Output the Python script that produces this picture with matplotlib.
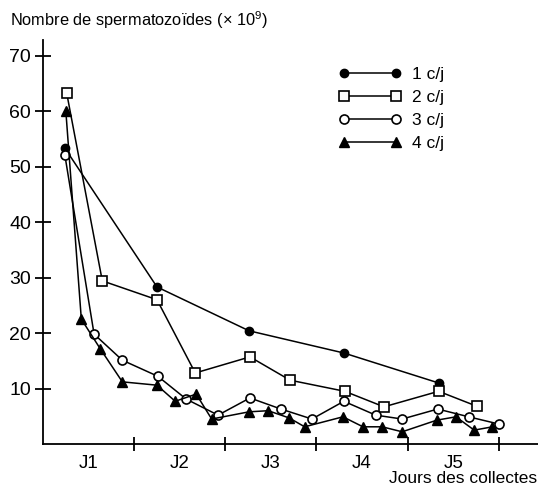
import matplotlib
matplotlib.use("Agg")
import matplotlib.pyplot as plt

plt.rcParams['font.family'] = ['Liberation Sans', 'DejaVu Sans']
plt.rcParams['mathtext.fontset'] = 'custom'
plt.rcParams['mathtext.rm'] = 'Liberation Sans'
plt.rcParams['mathtext.default'] = 'regular'

# x positions in days (collection times), y in sperm count x 10^9
x1 = [0.24, 1.25, 2.26, 3.30, 4.34]
y1 = [53.3, 28.3, 20.4, 16.4, 11.0]

x2 = [0.26, 0.65, 1.25, 1.67, 2.27, 2.71, 3.31, 3.74, 4.34, 4.76]
y2 = [63.2, 29.4, 26.0, 12.8, 15.7, 11.5, 9.5, 6.7, 9.5, 6.8]

x3 = [0.24, 0.56, 0.87, 1.26, 1.57, 1.92, 2.27, 2.61, 2.95, 3.30, 3.65, 3.94, 4.33, 4.67, 5.00]
y3 = [52.0, 19.8, 15.1, 12.2, 8.1, 5.2, 8.3, 6.3, 4.5, 7.7, 5.2, 4.5, 6.3, 4.9, 3.6]

x4 = [0.25, 0.42, 0.63, 0.87, 1.25, 1.45, 1.68, 1.85, 2.26, 2.47, 2.70, 2.87,
      3.29, 3.51, 3.72, 3.94, 4.32, 4.53, 4.73, 4.93]
y4 = [60.0, 22.5, 17.1, 11.2, 10.6, 7.7, 9.0, 4.5, 5.8, 6.0, 4.7, 3.1,
      4.9, 3.1, 3.1, 2.2, 4.3, 4.9, 2.5, 3.1]

day_labels = ['J1', 'J2', 'J3', 'J4', 'J5']
yticks = [10, 20, 30, 40, 50, 60, 70]

fig = plt.figure(figsize=(5.38, 4.86), dpi=100)
ax = fig.add_axes([0.080, 0.0864, 0.92, 0.8313])

kw = dict(color='black', lw=1.1, clip_on=False)
ax.plot(x1, y1, marker='o', ms=6, mfc='black', mec='black', label='1 c/j', **kw)
ax.plot(x2, y2, marker='s', ms=6.5, mfc='white', mec='black', mew=1.2, label='2 c/j', **kw)
ax.plot(x3, y3, marker='o', ms=6.5, mfc='white', mec='black', mew=1.2, label='3 c/j', **kw)
ax.plot(x4, y4, marker='^', ms=7, mfc='black', mec='black', label='4 c/j', **kw)

ax.set_xlim(0, 5.43)
ax.set_ylim(0, 72.8)
for s in ['top', 'right']:
    ax.spines[s].set_visible(False)
ax.spines['left'].set_linewidth(1.3)
ax.spines['bottom'].set_linewidth(1.3)

ax.set_yticks(yticks)
ax.set_yticklabels([str(v) for v in yticks], fontsize=14)
ax.tick_params(axis='y', direction='inout', length=11, width=1.3, pad=3)
ax.set_xticks([1, 2, 3, 4, 5])
ax.set_xticklabels([])
ax.tick_params(axis='x', direction='inout', length=10, width=1.3)
ax.set_xticks([0.5, 1.5, 2.5, 3.5, 4.5], minor=True)
ax.set_xticklabels(day_labels, minor=True, fontsize=13.5)
ax.tick_params(axis='x', which='minor', length=0, pad=8)

fig.text(10 / 538, 1 - 20 / 486, r'Nombre de spermatozoïdes (× 10$^{9}$)',
         fontsize=11.8, va='center', ha='left')
fig.text(389 / 538, 1 - 478 / 486, 'Jours des collectes', fontsize=12.5,
         va='center', ha='left')

ax.legend(loc='upper left', bbox_to_anchor=(332 / 538, 1 - 60 / 486),
          bbox_transform=fig.transFigure, frameon=False, numpoints=2,
          handlelength=3.6, handletextpad=0.6, labelspacing=0.45, fontsize=12.5,
          borderaxespad=0)

fig.savefig('out.png', dpi=100)
